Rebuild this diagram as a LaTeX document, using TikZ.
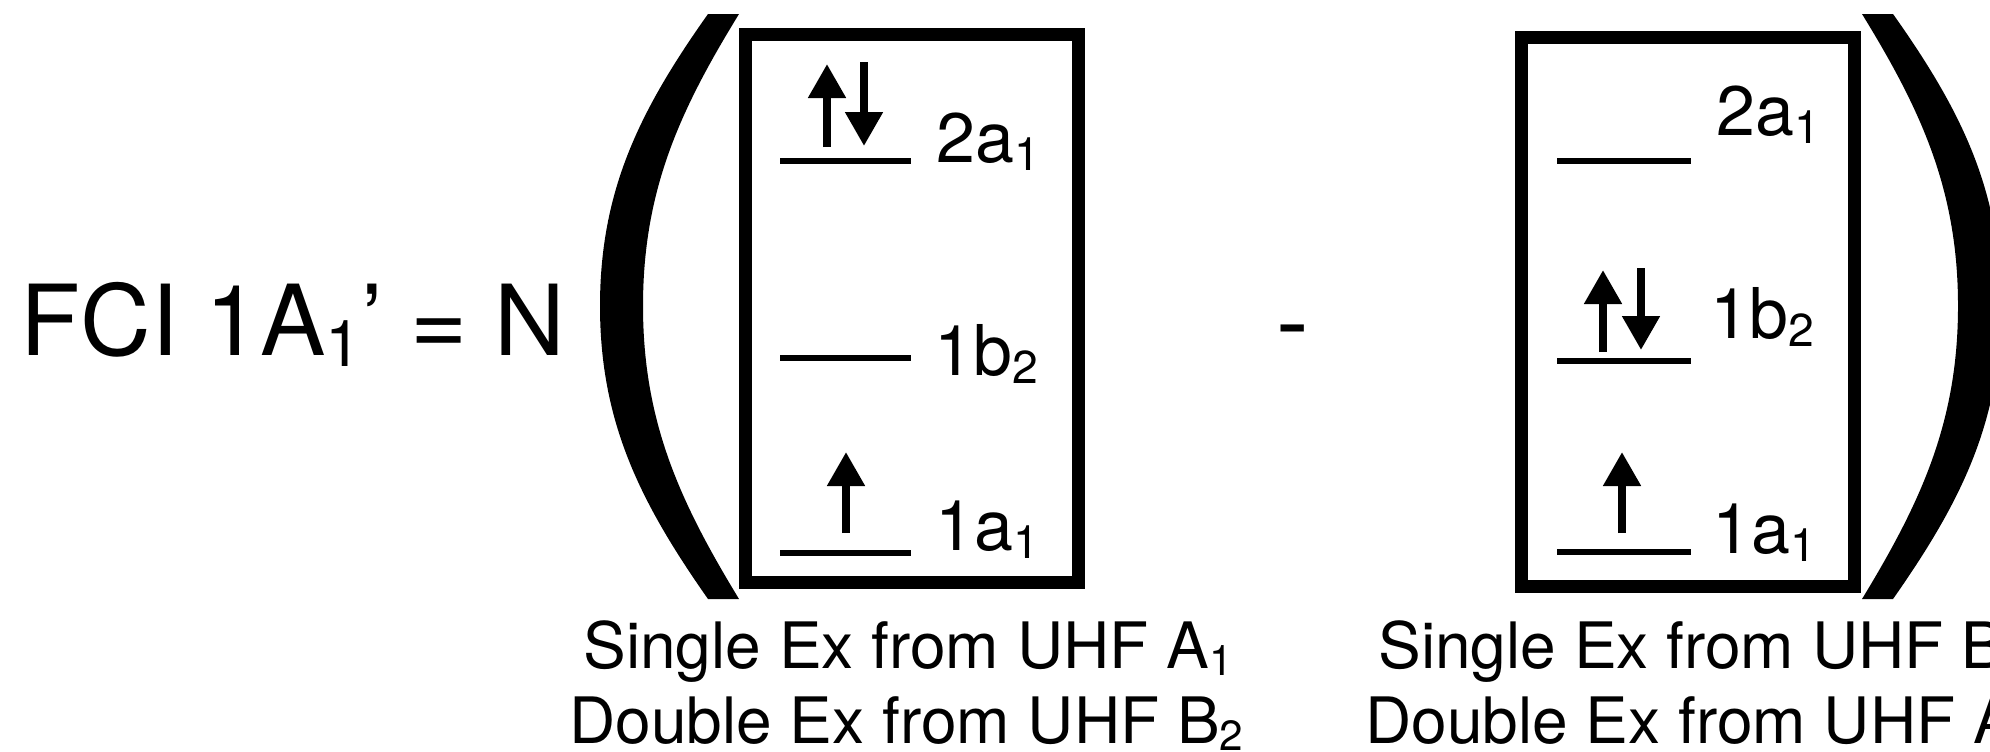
\documentclass[tikz,border=0pt]{standalone}
\usepackage{fontspec}
\setmainfont{TeX Gyre Heros}
\usetikzlibrary{arrows.meta}
\newcommand\sbx[1]{\raisebox{-0.12em}{\scalebox{0.66}{#1}}}
\begin{document}
\begin{tikzpicture}[x=0.5pt,y=-0.5pt,
  orbbox/.style={draw, line width=6.5pt, minimum width=166.5pt, minimum height=274pt, inner sep=0pt, outer sep=0pt},
  level/.style={line width=2.75pt},
  spin/.style={line width=4pt, -{Triangle[width=18pt,length=17pt]}},
  big/.style={font=\fontsize{49pt}{49pt}\selectfont, inner sep=0pt, anchor=base west},
  orb/.style={font=\fontsize{35pt}{35pt}\selectfont, inner sep=0pt, anchor=base west},
  capt/.style={font=\fontsize{32pt}{32pt}\selectfont, inner sep=0pt, anchor=base west},
  paren/.style={fill=black}]
\useasboundingbox (0,0) rectangle (1990,751);

% title
\node[big] (title) at (20,355) {FCI 1A\sbx{1}’ = N};

% left parenthesis
\fill[paren] (708,14) .. controls (640,110) and (600,190) .. (600,306)
  .. controls (600,422) and (640,502) .. (708,599) -- (739,599)
  .. controls (680,502) and (643,422) .. (643,306)
  .. controls (643,190) and (680,110) .. (739,14) -- cycle;

% right parenthesis
\fill[paren] (1893,14) .. controls (1961,110) and (2001,190) .. (2001,306)
  .. controls (2001,422) and (1961,502) .. (1893,599) -- (1862,599)
  .. controls (1921,502) and (1958,422) .. (1958,306)
  .. controls (1958,190) and (1921,110) .. (1862,14) -- cycle;

% boxes
\node[orbbox] (boxL) at (911.5,308.4) {};
\node[orbbox, minimum height=274.25pt] (boxR) at (1687.5,311.75) {};

% left box levels
\draw[level] (780,161) -- (911,161);
\draw[level] (780,358) -- (911,358);
\draw[level] (780,553) -- (911,553);
\draw[spin] (827,147) -- (827,64);
\draw[spin] (864,62) -- (864,146);
\draw[spin] (846,533) -- (846,452);
\node[orb] (L2a) at (936,162) {2a\sbx{1}};
\node[orb] (L1b) at (934,375) {1b\sbx{2}};
\node[orb] (L1a) at (935,550) {1a\sbx{1}};

% minus
\node[big, anchor=base] (minus) at (1293,355) {-};

% right box levels
\draw[level] (1557,161) -- (1691,161);
\draw[level] (1557,361) -- (1691,361);
\draw[level] (1557,552) -- (1691,552);
\draw[spin] (1603,352) -- (1603,270);
\draw[spin] (1641,268) -- (1641,350);
\draw[spin] (1622,533) -- (1622,452);
\node[orb] (R2a) at (1716,135) {2a\sbx{1}};
\node[orb] (R1b) at (1710,338) {1b\sbx{2}};
\node[orb] (R1a) at (1712,553) {1a\sbx{1}};

% captions
\node[capt] (capL1) at (583,668) {Single Ex from UHF A\sbx{1}};
\node[capt] (capL2) at (569,743) {Double Ex from UHF B\sbx{2}};
\node[capt] (capR1) at (1378,668) {Single Ex from UHF B\sbx{2}};
\node[capt] (capR2) at (1365,743) {Double Ex from UHF A\sbx{1}};
\end{tikzpicture}
\end{document}
